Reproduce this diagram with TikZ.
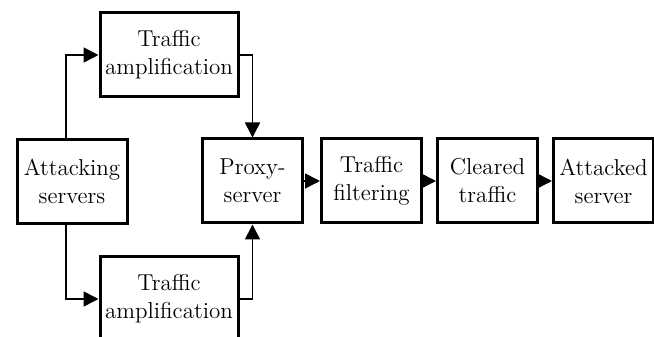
\documentclass[tikz,border=0pt]{standalone}
\usetikzlibrary{
  arrows.meta,
  positioning,
  calc
}
\tikzset{
  blk/.style={
    draw, line width=1.5pt, minimum height=42pt, minimum width=50pt,
    inner sep=1.5pt, align=center, font=\fontsize{11.5}{14}\selectfont
  },
  ampblk/.style={blk, minimum width=69pt},
  link/.style={-{Triangle[length=7.5pt, width=7.5pt]}, line width=0.8pt}
}
\begin{document}
\begin{tikzpicture}[node distance=6.5pt]
  \useasboundingbox (0,0) rectangle (327pt,168.5pt);
  \node[blk, minimum width=55pt] (att) at (36pt,77.75pt) {Attacking\\servers};
  \node[ampblk] (amp1) at (84.5pt,141pt) {Traffic\\amplification};
  \node[ampblk] (amp2) at (84.5pt,19pt) {Traffic\\amplification};
  \node[blk] (proxy) at (126.25pt,78pt) {Proxy-\\server};
  \node[blk, right=8pt of proxy] (filt) {Traffic\\filtering};
  \node[blk, right=of filt] (clear) {Cleared\\traffic};
  \node[blk, right=of clear] (victim) {Attacked\\server};
  % branches
  \draw[link] ($(att.north)+(-3pt,0)$) |- (amp1.west);
  \draw[link] ($(att.south)+(-3pt,0)$) |- (amp2.west);
  \draw[link] (amp1.east) -| (proxy.north);
  \draw[link] (amp2.east) -| (proxy.south);
  % main chain
  \draw[link] (proxy) -- (filt);
  \draw[link] (filt) -- (clear);
  \draw[link] (clear) -- (victim);
\end{tikzpicture}
\end{document}
